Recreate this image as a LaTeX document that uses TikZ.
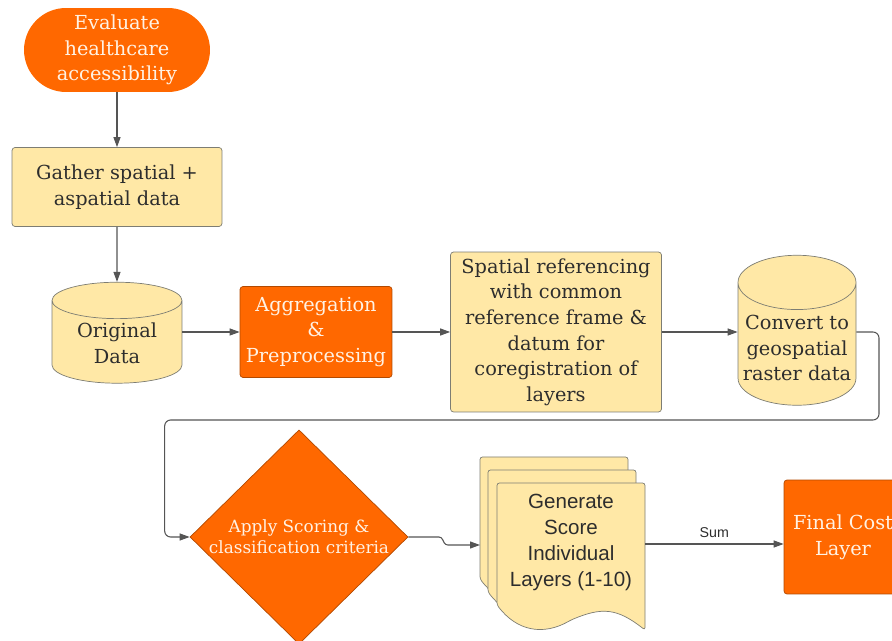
\documentclass[tikz,border=0pt]{standalone}
\usepackage{fontspec}
\setmainfont{DejaVu Serif}
\newfontfamily\sansdoc{Liberation Sans}
\usetikzlibrary{shapes.geometric,arrows.meta}

\definecolor{naranja}{RGB}{255,104,0}
\definecolor{amarillo}{RGB}{255,232,166}
\definecolor{borde}{RGB}{125,125,115}
\definecolor{linea}{RGB}{85,85,85}
\definecolor{crema}{RGB}{255,242,228}
\definecolor{tinta}{RGB}{45,45,45}

\begin{document}
\begin{tikzpicture}[x=0.02cm, y=-0.02cm, % una unidad = un pixel de la figura
    caja/.style={draw=borde, fill=amarillo, rounded corners=0.06cm, align=center,
        text=tinta, inner sep=0pt, font=\fontsize{11}{14.6}\selectfont},
    cajanar/.style={draw=naranja!70!black, fill=naranja, rounded corners=0.06cm, align=center,
        text=crema, inner sep=0pt, font=\fontsize{11}{14.6}\selectfont},
    cilindro/.style={cylinder, shape border rotate=90, draw=borde, fill=amarillo, inner sep=0pt},
    rotulo/.style={align=center, text=tinta, font=\fontsize{11}{14.6}\selectfont},
    hoja/.style={draw=borde, fill=amarillo, rounded corners=0.05cm},
    flecha/.style={draw=linea, line width=0.6pt, -{Triangle[length=2mm,width=1.4mm]}, rounded corners=0.12cm}
]

    % Marco de la figura
    \clip (0,0) rectangle (892,641);

    % 1. Inicio y recogida de datos
    \node[cajanar, draw=none, rounded corners=0.84cm, minimum width=3.72cm, minimum height=1.68cm]
        (eval) at (117,50) {Evaluate\\healthcare\\accessibility};
    \node[caja, minimum width=4.2cm, minimum height=1.58cm] (gather) at (117,187) {Gather spatial +\\aspatial data};
    \node[cilindro, aspect=0.28, minimum height=2.02cm,
        label={[rotulo, yshift=-0.02cm]center:Original\\Data}] (orig) at (117,342) {\hspace*{2.6cm}};

    % 2. Fila central
    \node[cajanar, minimum width=3.04cm, minimum height=1.82cm] (agr) at (316,332) {Aggregation\\\&\\Preprocessing};
    \node[caja, minimum width=4.22cm, minimum height=3.2cm] (esp) at (556,332)
        {Spatial referencing\\with common\\reference frame \&\\datum for\\coregistration of\\layers};
    \node[cilindro, aspect=0.46, minimum height=3cm,
        label={[rotulo, yshift=-0.08cm]center:Convert to\\geospatial\\raster data}] (conv) at (797,344) {\hspace*{2.36cm}};

    % 3. Fila inferior: rombo, pila de hojas y capa final
    \node[diamond, draw=naranja!70!black, fill=naranja, text=crema, align=center, inner sep=0pt,
        minimum width=4.36cm, minimum height=4.12cm, font=\fontsize{9.6}{12}\selectfont]
        (ap) at (299,537) {Apply Scoring \&\\classification criteria};

    % pila de tres documentos con borde ondulado
    \foreach \dx/\dy in {0/0, 8/13, 17/26} {
        \filldraw[hoja] ({480+\dx},{457+\dy}) -- ({628+\dx},{457+\dy}) -- ({628+\dx},{604+\dy})
            .. controls ({600+\dx},{582+\dy}) and ({585+\dx},{581+\dy}) .. ({554+\dx},{594+\dy})
            .. controls ({526+\dx},{610+\dy}) and ({500+\dx},{605+\dy}) .. ({480+\dx},{579+\dy}) -- cycle;
    }
    \node[align=center, text=tinta, font=\sansdoc\fontsize{11.7}{14.8}\selectfont]
        (capas) at (571,542) {Generate\\Score\\Individual\\Layers (1-10)};
    \coordinate (entrada) at (480,545);
    \coordinate (salida) at (645,544);

    \node[cajanar, minimum width=2.36cm, minimum height=2.28cm] (fin) at (843,537) {Final Cost\\Layer};

    % 4. Conectores
    \draw[flecha] (eval) -- (gather);
    \draw[flecha] (gather) -- (orig);
    \draw[flecha] (agr.west -| orig.east) -- (agr.west);
    \draw[flecha] (agr) -- (esp);
    \draw[flecha] (esp.east) -- (esp.east -| conv.west);
    \draw[flecha] (esp.east -| conv.east) -| (879,420) -| ([xshift=-0.5cm]ap.west) -- (ap.west);
    \draw[flecha, rounded corners=0.05cm] (ap.east) -- ++(33,0) -- ++(4,8) -- (entrada);
    \draw[flecha] (salida) -- node[above, text=tinta, font=\sansdoc\fontsize{8.1}{10}\selectfont] {Sum} (salida -| fin.west);

\end{tikzpicture}
\end{document}
